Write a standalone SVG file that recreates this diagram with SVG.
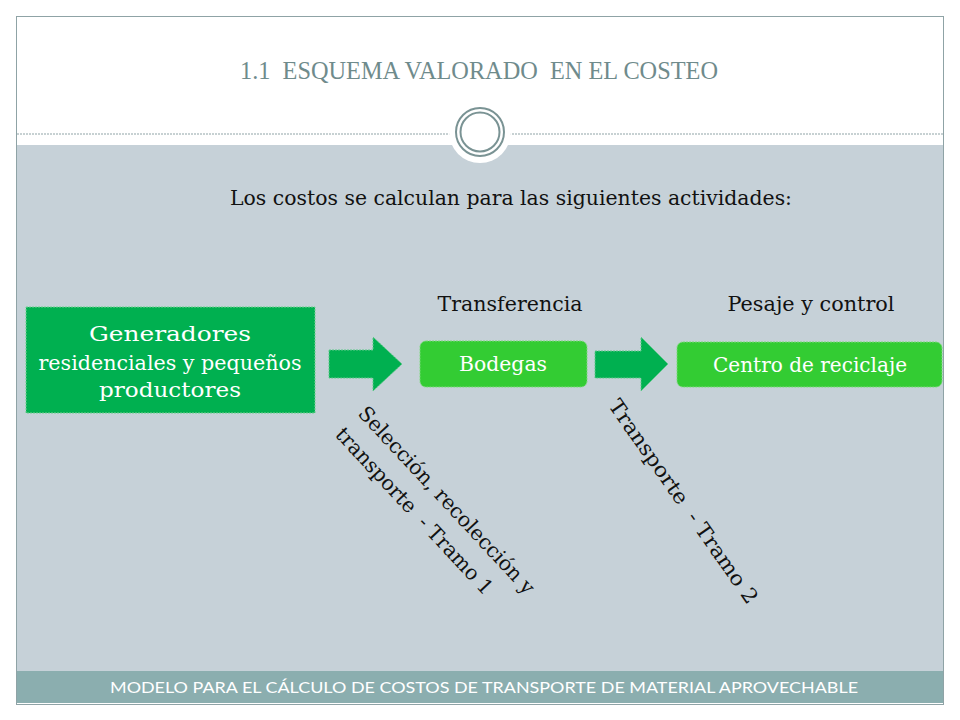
<svg xmlns="http://www.w3.org/2000/svg" width="960" height="720" viewBox="0 0 960 720">
<defs>
<style>
.serif{font-family:"DejaVu Serif","Liberation Serif",serif;}
.tserif{font-family:"Liberation Serif","DejaVu Serif",serif;}
.dark{fill:#111111;}
.node-text{fill:#ffffff;font-size:20.5px;text-anchor:middle;}
.label{font-size:20.5px;text-anchor:middle;}
.nodeA{fill:#00B050;stroke:#6FD08F;stroke-width:1;stroke-dasharray:2 1;}
.nodeB{fill:#33CC33;stroke:#7ADA7A;stroke-width:1;stroke-dasharray:2 1;}
.arrow{fill:#00B050;stroke:#5FC98A;stroke-width:1;stroke-dasharray:2 1;}
</style>
</defs>
<rect x="0" y="0" width="960" height="720" fill="#ffffff"/>
<!-- frame -->
<rect x="16.5" y="16.5" width="927" height="688" fill="#ffffff" stroke="#8FA3A6" stroke-width="1"/>
<rect x="17" y="145" width="926" height="526" fill="#C6D1D8"/>
<line x1="17" y1="134" x2="943" y2="134" stroke="#8FA3A6" stroke-width="1" stroke-dasharray="2 1"/>
<circle cx="480" cy="132" r="31" fill="#ffffff"/>
<circle cx="480" cy="132" r="24" fill="none" stroke="#7A9394" stroke-width="2"/>
<circle cx="480" cy="132" r="19.5" fill="none" stroke="#7A9394" stroke-width="2"/>
<rect x="17" y="671" width="926" height="32" fill="#8BAEAF"/>
<text x="240" y="79" class="tserif" font-size="26" fill="#6F8B8C" xml:space="preserve" textLength="478" lengthAdjust="spacingAndGlyphs">1.1  ESQUEMA VALORADO  EN EL COSTEO</text>
<text x="110" y="693" font-family="Lato,'Open Sans',sans-serif" font-size="16" fill="#ffffff" textLength="748" lengthAdjust="spacingAndGlyphs">MODELO PARA EL CÁLCULO DE COSTOS DE TRANSPORTE DE MATERIAL APROVECHABLE</text>
<text x="230" y="205" class="serif dark" font-size="20.5" textLength="562" lengthAdjust="spacingAndGlyphs">Los costos se calculan para las siguientes actividades:</text>
<text x="510" y="311" class="serif dark label" textLength="145" lengthAdjust="spacingAndGlyphs">Transferencia</text>
<text x="811" y="311" class="serif dark label" textLength="167" lengthAdjust="spacingAndGlyphs">Pesaje y control</text>

<g id="node-generadores">
<rect class="nodeA" x="26" y="307" width="289" height="106"/>
<text class="serif node-text" x="170" y="341" textLength="162" lengthAdjust="spacingAndGlyphs">Generadores</text>
<text class="serif node-text" x="170" y="370" textLength="263" lengthAdjust="spacingAndGlyphs">residenciales y pequeños</text>
<text class="serif node-text" x="170" y="397" textLength="142" lengthAdjust="spacingAndGlyphs">productores</text>
</g>
<g id="node-bodegas">
<rect class="nodeB" x="420" y="341" width="167" height="46" rx="6"/>
<text class="serif node-text" x="503" y="371" textLength="88" lengthAdjust="spacingAndGlyphs">Bodegas</text>
</g>
<g id="node-centro">
<rect class="nodeB" x="677" y="342" width="265" height="45" rx="6"/>
<text class="serif node-text" x="810" y="372" textLength="194" lengthAdjust="spacingAndGlyphs">Centro de reciclaje</text>
</g>

<g id="connectors">
<polygon class="arrow" points="329,350 373,350 373,337 402,364 373,391 373,378 329,378"/>
<polygon class="arrow" points="595,351 641,351 641,337 668,364 641,391 641,378 595,378"/>
<g transform="translate(368,404) rotate(47)">
<text class="serif dark" x="0" y="15" font-size="20.5" textLength="248" lengthAdjust="spacingAndGlyphs">Selección, recolección y</text>
<text class="serif dark" x="0" y="46" font-size="20.5" xml:space="preserve" textLength="220" lengthAdjust="spacingAndGlyphs">transporte  - Tramo 1</text>
</g>
<g transform="translate(620,397) rotate(55)">
<text class="serif dark" x="0" y="15" font-size="20.5" xml:space="preserve" textLength="244" lengthAdjust="spacingAndGlyphs">Transporte  - Tramo 2</text>
</g>
</g>
</svg>
